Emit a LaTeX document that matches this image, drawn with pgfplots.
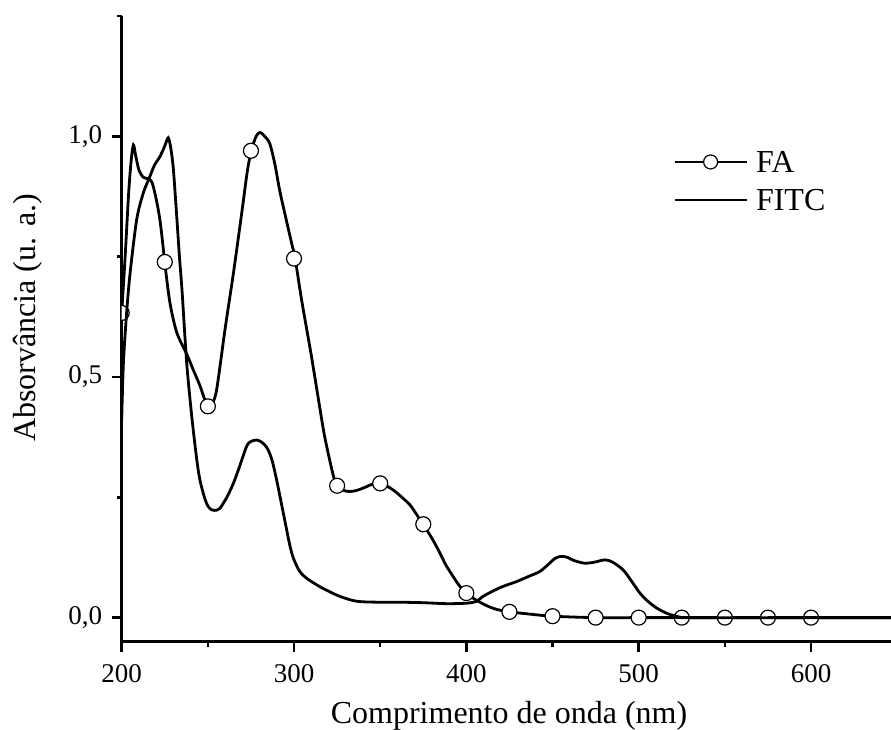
\documentclass[border=0pt]{standalone}
\usepackage{pgfplots}
\pgfplotsset{compat=1.18}
\usepackage{fontspec}
\setmainfont{Liberation Serif}

\begin{document}
\begin{tikzpicture}
\begin{axis}[
  scale only axis, width=769.3pt, height=625.7pt,
  xmin=200, xmax=646.4, ymin=-0.05, ymax=1.25,
  axis x line*=bottom, axis y line*=left,
  axis line style={line width=2.8pt, black},
  tick align=outside,
  major tick length=10pt, minor tick length=5pt,
  every tick/.style={black, line width=2.5pt},
  xtick={200,300,400,500,600}, xticklabels={200,300,400,500,600},
  minor xtick={250,350,450,550},
  ytick={0,0.5,1}, yticklabels={{0,0},{0,5},{1,0}},
  minor ytick={0.25,0.75,1.25},
  ticklabel style={font=\fontsize{27}{31}\selectfont},
  xticklabel style={yshift=-9pt},
  yticklabel style={xshift=-6pt},
  xlabel={Comprimento de onda (nm)}, ylabel={Absorvância (u. a.)},
  label style={font=\fontsize{32}{38}\selectfont},
  xlabel style={at={(axis description cs:0.5035,-0.1305)}, anchor=base},
  ylabel style={at={(axis description cs:-0.1218,0.5173)}, anchor=center},
  clip marker paths=true,
  legend style={draw=none, fill=none, at={(axis cs:519.9,0.970)}, anchor=north west,
    inner sep=0pt, row sep=16pt, column sep=8pt,
    font=\fontsize{32}{38}\selectfont,
    nodes={inner sep=0pt, text height=22pt, text depth=0pt}},
  legend cell align=left,
]
% FA continuous line
\addplot[black, line width=2.8pt, smooth, tension=0.5, forget plot] coordinates {
(200,0.633) (202,0.75) (204,0.88) (205.5,0.95) (206.8,0.982) (208,0.962) (210,0.93)
(212.5,0.915) (215,0.912) (217.5,0.905) (220,0.87) (222.2,0.826) (224,0.771) (225,0.737)
(228,0.654) (232,0.592) (237.7,0.548) (241.5,0.515) (245.4,0.482) (248,0.455) (250.3,0.439)
(252,0.442) (255,0.472) (260,0.60) (265,0.72) (270,0.85) (273,0.93) (275.4,0.972)
(278,1.0) (280.3,1.008) (283,1.0) (286,0.984) (289,0.94) (292,0.882) (298.6,0.778)
(300.6,0.747) (304.4,0.66) (310,0.545) (315,0.435) (318,0.372) (322.8,0.295) (325,0.274)
(328,0.265) (332.5,0.262) (337,0.265) (342,0.272) (346,0.278) (350,0.279) (354,0.273)
(357.6,0.265) (362,0.252) (367.3,0.234) (371,0.215) (375,0.193) (380,0.165) (384.7,0.134)
(388,0.11) (392.4,0.085) (396,0.066) (400,0.051) (405,0.038) (410,0.028) (415,0.02)
(420,0.015) (425,0.012) (435,0.008) (450,0.003) (475,0.0) (500,0) (550,0) (600,0) (646.4,0)
};
% FA markers
\addplot[only marks, mark=*, mark size=7.5pt, mark options={fill=white, draw=black, line width=1.2pt},
  legend image code/.code={
    \draw[black, line width=2.8pt] (0pt,0pt) -- (72pt,0pt);
    \draw[black, line width=1.2pt] plot[mark=*, mark size=7pt, only marks, mark options={fill=white}] coordinates {(36pt,0pt)};
  }] coordinates {
(200,0.633) (225,0.739) (250,0.439) (275,0.970) (300,0.746) (325,0.274) (350,0.279)
(375,0.194) (400,0.051) (425,0.012) (450,0.003) (475,0.0) (500,0) (525,0) (550,0) (575,0) (600,0)
};
\addlegendentry{FA}
% FITC
\addplot[black, line width=2.8pt, smooth, tension=0.5,
  legend image code/.code={\draw[black, line width=2.8pt] (0pt,0pt) -- (72pt,0pt);}] coordinates {
(200,0.41) (201,0.53) (203,0.64) (205,0.72) (208.7,0.827) (212.5,0.882) (216.4,0.917)
(219,0.94) (222.2,0.958) (225,0.98) (227,0.997) (228.5,0.975) (230,0.931) (232,0.83)
(233.5,0.75) (235,0.68) (237.7,0.53) (240.6,0.42) (243.5,0.33) (245.4,0.286) (248,0.25)
(250,0.232) (252.2,0.224) (255,0.223) (257,0.227) (261,0.25) (264.8,0.279) (268,0.31)
(272.5,0.356) (275,0.366) (278.3,0.369) (281,0.365) (284.1,0.354) (287,0.33) (289.9,0.286)
(293.8,0.217) (297.7,0.148) (300,0.12) (303.5,0.095) (308,0.08) (315.1,0.064) (320,0.055)
(326.7,0.044) (336.4,0.034) (350,0.032) (361.5,0.032) (375,0.031) (388.6,0.029) (400,0.03)
(406,0.034) (410,0.045) (420,0.063) (429.2,0.075) (437,0.087) (442.7,0.096) (448,0.112)
(451,0.122) (454.3,0.127) (458,0.126) (463,0.118) (468.8,0.113) (474,0.115) (480.5,0.12)
(485,0.115) (491,0.099) (496,0.075) (500.7,0.051) (505,0.035) (510.4,0.02) (517,0.008)
(524,0.001) (530,0) (600,0) (646.4,0)
};
\addlegendentry{FITC}
\coordinate (sw) at (rel axis cs:0,0);
\coordinate (ne) at (rel axis cs:1,1);
\end{axis}
\pgfresetboundingbox
\path[use as bounding box] ([xshift=-121.7pt,yshift=-88.3pt]sw) rectangle ([yshift=16pt]ne);
\end{tikzpicture}
\end{document}
